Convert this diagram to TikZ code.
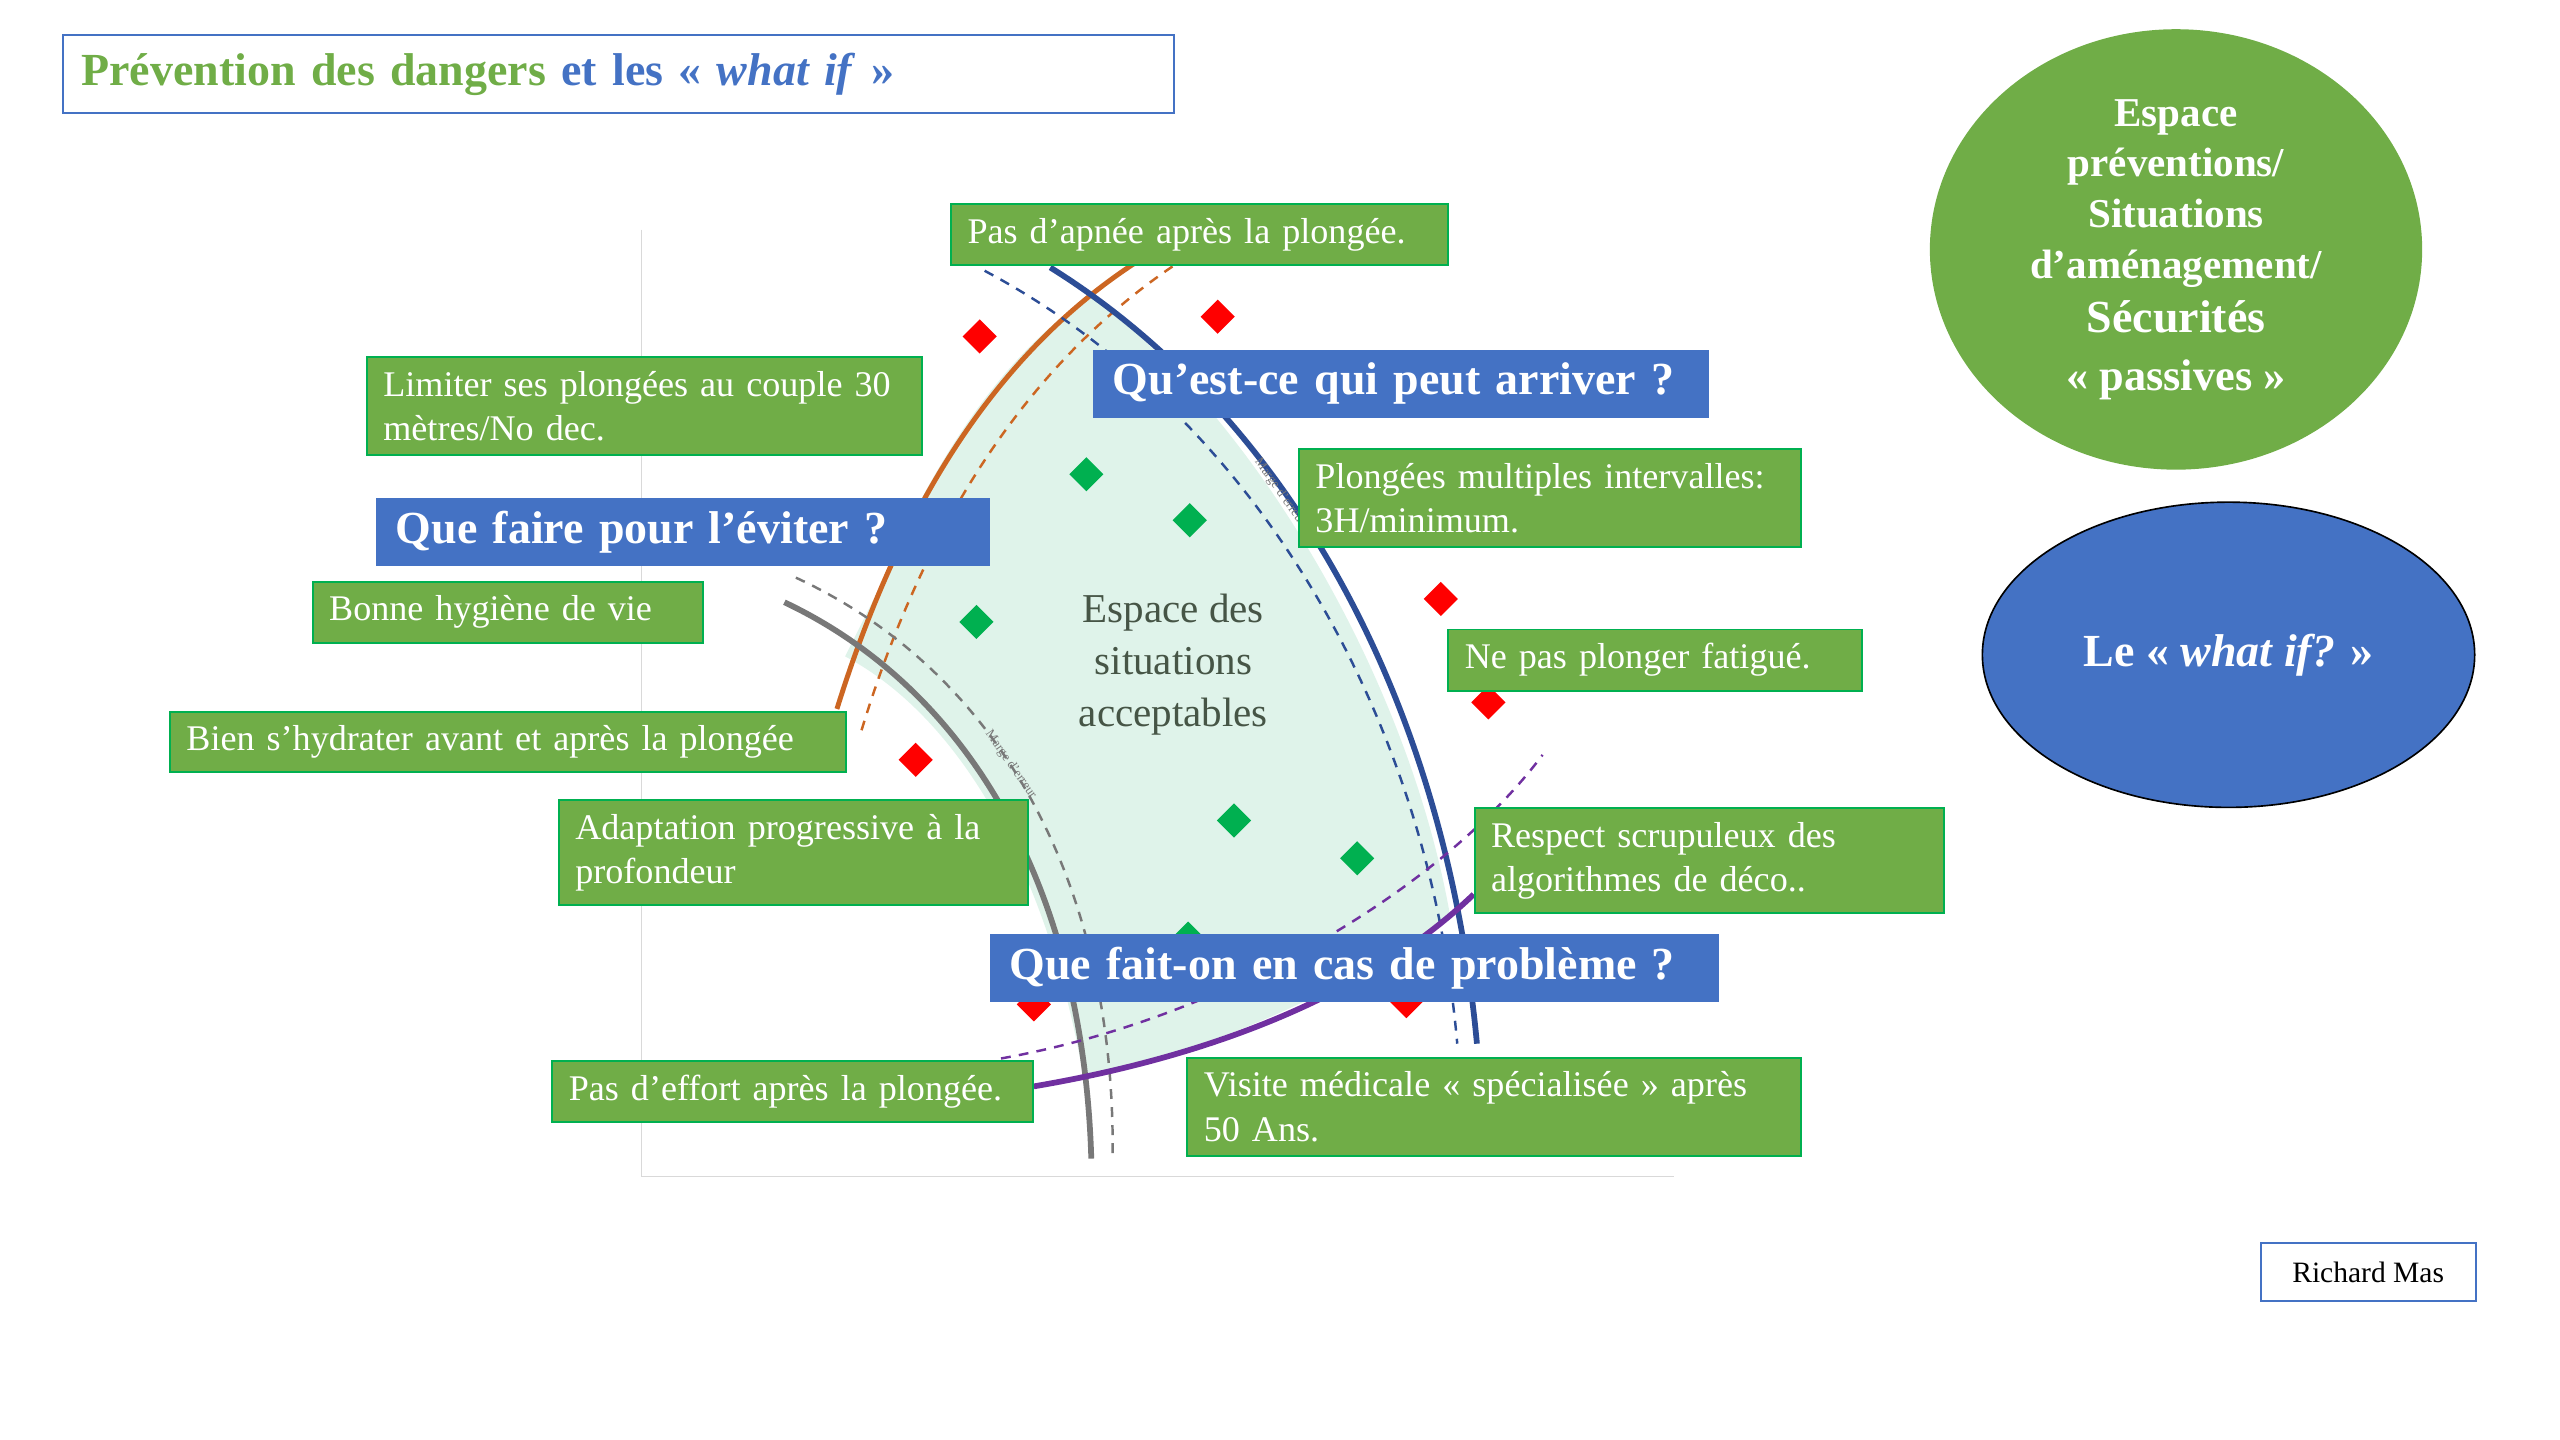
\documentclass[tikz,border=0pt]{standalone}
\usepackage{fontspec}
\setmainfont{Liberation Serif}
\usetikzlibrary{shapes.geometric}
\definecolor{boxgreen}{RGB}{112,173,71}
\definecolor{edgegreen}{RGB}{0,176,80}
\definecolor{boxblue}{RGB}{68,114,196}
\definecolor{mint}{RGB}{223,243,234}
\definecolor{arcorange}{RGB}{204,102,34}
\definecolor{arcblue}{RGB}{44,77,150}
\definecolor{arcgray}{RGB}{120,120,120}
\definecolor{arcpurple}{RGB}{112,48,160}
\definecolor{zonetext}{RGB}{70,85,70}
\begin{document}
\begin{tikzpicture}[x=1pt,y=1pt,yscale=-1,
  gbox/.style={draw=edgegreen,line width=1.2pt,fill=boxgreen,text=white,anchor=north west,align=left,font=\fontsize{22}{27}\selectfont,inner xsep=10pt,inner ysep=8.5pt},
  bbox/.style={fill=boxblue,text=white,anchor=north west,font=\fontsize{28}{32}\selectfont\bfseries,inner xsep=12pt,inner ysep=8pt},
  reddia/.style={diamond,fill=red,minimum size=21pt,inner sep=0pt},
  greendia/.style={diamond,fill=edgegreen,minimum size=21pt,inner sep=0pt},
  marge/.style={font=\fontsize{8}{8}\selectfont,text=arcgray}]
\useasboundingbox (0,0) rectangle (1560,877.5);

%axes
\draw [black!15,line width=1pt] (391,140) -- (391,717) -- (1020,717);

%zone acceptable
\fill [mint] (535,360) .. controls (575,265) and (620,210) .. (665,180) .. controls (770,260) and (860,420) .. (884,560) .. controls (800,615) and (720,645) .. (660,655) .. controls (640,540) and (590,440) .. (515,400) -- cycle;

%arcs
\draw [arcorange,line width=3pt] (510,432) .. controls (545,320) and (600,220) .. (692,160);
\draw [arcorange,line width=1.5pt,dash pattern=on 6pt off 5pt] (525,445) .. controls (560,330) and (620,225) .. (718,160);
\draw [arcblue,line width=3.5pt] (640,163) .. controls (780,250) and (880,420) .. (900,636);
\draw [arcblue,line width=1.5pt,dash pattern=on 6pt off 5pt] (600,165) .. controls (760,250) and (870,430) .. (888,636);
\draw [arcgray,line width=3.5pt] (478,367) .. controls (590,420) and (660,540) .. (665,706);
\draw [arcgray,line width=1.5pt,dash pattern=on 6pt off 5pt] (485,352) .. controls (610,410) and (680,540) .. (678,706);
\draw [arcpurple,line width=3.5pt] (630,662) .. controls (730,645) and (830,610) .. (898,545);
\draw [arcpurple,line width=1.5pt,dash pattern=on 6pt off 5pt] (610,645) .. controls (750,620) and (880,540) .. (940,460);

\node [marge,rotate=-55] at (780,300) {Marge d'erreur};
\node [marge,rotate=-55] at (616,466) {Marge d'erreur};

%diamonds
\foreach \px/\py [count=\i] in {597/205,742/193,878/365,907/428,558/463,630/612,857/610}
  \node [reddia] (r\i) at (\px,\py) {};
\foreach \px/\py [count=\i] in {662/289,725/317,595/379,752/500,827/523,724/572}
  \node [greendia] (v\i) at (\px,\py) {};

\node [align=center,text=zonetext,font=\fontsize{25}{31.5}\selectfont] (zone) at (715,405) {Espace des\\situations\\acceptables};

%green boxes
\node [gbox,text width=283pt] (apnee) at (579,124) {Pas d’apnée après la plongée.};
\node [gbox,text width=318pt] (limiter) at (223,217) {Limiter ses plongées au couple 30\\mètres/No dec.};
\node [gbox,text width=286pt] (multiples) at (791,273) {Plongées multiples intervalles:\\3H/minimum.};
\node [gbox,text width=218pt] (hygiene) at (190,354) {Bonne hygiène de vie};
\node [gbox,text width=232pt] (fatigue) at (882,383) {Ne pas plonger fatigué.};
\node [gbox,text width=392pt] (hydrater) at (103,433) {Bien s’hydrater avant et après la plongée};
\node [gbox,text width=266pt] (adaptation) at (340,487) {Adaptation progressive à la\\profondeur};
\node [gbox,text width=266pt] (respect) at (898,492) {Respect scrupuleux des\\algorithmes de déco..};
\node [gbox,text width=273pt] (effort) at (336,646) {Pas d’effort après la plongée.};
\node [gbox,text width=354pt] (visite) at (723,644) {Visite médicale « spécialisée » après\\50 Ans.};

%blue boxes
\node [bbox,text width=351pt] (arriver) at (666,213) {Qu’est-ce qui peut arriver ?};
\node [bbox,text width=350pt] (eviter) at (229,303) {Que faire pour l’éviter ?};
\node [bbox,text width=420pt] (probleme) at (603,569) {Que fait-on en cas de problème ?};

%title
\node [draw=boxblue,line width=1.2pt,anchor=north west,minimum width=677pt,minimum height=47pt,text width=655pt,inner xsep=11pt,font=\fontsize{28}{32}\selectfont\bfseries] (titre) at (38,21)
  {\textcolor{boxgreen}{Prévention des dangers} \textcolor{boxblue}{et les « \textit{what if} »}};

%ellipses
\node [ellipse,fill=boxgreen,minimum width=300pt,minimum height=240pt,align=center,text=white,font=\fontsize{25}{31}\selectfont\bfseries] (espace) at (1326,152)
  {Espace\\préventions/\\Situations\\d’aménagement/\\[2pt]{\fontsize{28}{34}\selectfont Sécurités}\\[4pt]{\fontsize{27}{34}\selectfont « passives »}};
\node [ellipse,draw=black,line width=1pt,fill=boxblue,minimum width=300pt,minimum height=186pt,text=white,font=\fontsize{28}{32}\selectfont\bfseries] (whatif) at (1358,399)
  {Le « \textit{what if?} »};

\node [draw=boxblue,line width=1.2pt,anchor=north west,minimum width=131pt,minimum height=35pt,font=\fontsize{18}{20}\selectfont] (auteur) at (1377,757) {Richard Mas};
\end{tikzpicture}
\end{document}
